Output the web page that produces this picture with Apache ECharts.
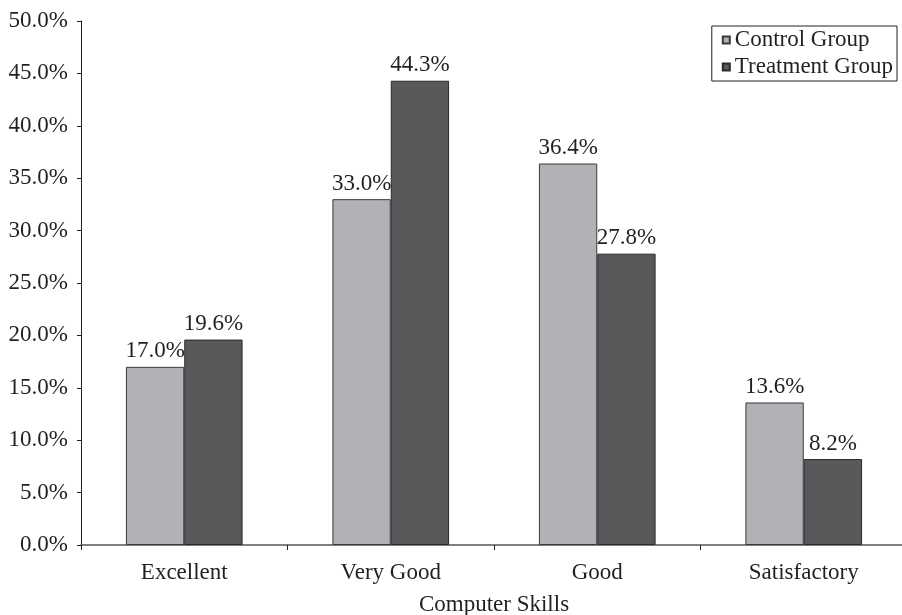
<!DOCTYPE html>
<html>
<head>
<meta charset="utf-8">
<script src="https://cdn.jsdelivr.net/npm/echarts@6/dist/echarts.min.js"></script>
<style>
  html, body { margin: 0; padding: 0; background: #fff; }
  #chart { width: 902px; height: 615px; }
</style>
</head>
<body>
<div id="chart"></div>
<script>
// Share of respondents by self-rated computer skill level
const categories = ['Excellent', 'Very Good', 'Good', 'Satisfactory'];
const controlGroup = [17.0, 33.0, 36.4, 13.6];
const treatmentGroup = [19.6, 44.3, 27.8, 8.2];
const seriesNames = ['Control Group', 'Treatment Group'];
const axisTitle = 'Computer Skills';

const FONT = '"Liberation Serif", "DejaVu Serif", serif';
const FS = 23;
const TEXT = '#231f20';

const chart = echarts.init(document.getElementById('chart'), null, { renderer: 'canvas' });

function barLabel() {
  return {
    show: true,
    position: 'top',
    distance: 4,
    fontFamily: FONT,
    fontSize: FS,
    color: TEXT,
    formatter: p => p.value.toFixed(1) + '%'
  };
}

chart.setOption({
  backgroundColor: '#ffffff',
  animation: false,
  grid: {
    left: 81, top: 21, width: 826, bottom: 70,
    containLabel: false,
    outerBoundsMode: 'none'
  },
  legend: {
    orient: 'vertical',
    right: 5,
    top: 26,
    itemWidth: 7,
    itemHeight: 7,
    itemGap: 3,
    padding: [2, 4, 2, 10],
    borderColor: '#231f20',
    borderWidth: 1,
    icon: 'rect',
    textStyle: { fontFamily: FONT, fontSize: FS, color: TEXT, lineHeight: 24 },
    data: seriesNames
  },
  xAxis: {
    type: 'category',
    data: categories,
    name: axisTitle,
    nameLocation: 'middle',
    nameGap: 48,
    nameTextStyle: { fontFamily: FONT, fontSize: FS, color: TEXT },
    axisLine: { lineStyle: { color: '#555', width: 1.5 } },
    axisTick: { show: true, length: 5, inside: false, alignWithLabel: false, lineStyle: { color: '#231f20' } },
    axisLabel: { fontFamily: FONT, fontSize: FS, color: TEXT, margin: 16 }
  },
  yAxis: {
    type: 'value',
    min: 0,
    max: 50,
    interval: 5,
    axisLine: { show: true, lineStyle: { color: '#231f20', width: 1 } },
    axisTick: { show: true, length: 4, lineStyle: { color: '#231f20' } },
    splitLine: { show: false },
    axisLabel: {
      fontFamily: FONT,
      fontSize: FS,
      color: TEXT,
      margin: 13,
      formatter: v => v.toFixed(1) + '%'
    }
  },
  series: [
    {
      name: seriesNames[0],
      type: 'bar',
      data: controlGroup,
      barGap: '0%',
      barCategoryGap: '43.5%',
      itemStyle: { color: '#b1b2b5', borderColor: '#3a3a3c', borderWidth: 1 },
      label: barLabel()
    },
    {
      name: seriesNames[1],
      type: 'bar',
      data: treatmentGroup,
      barGap: '0%',
      barCategoryGap: '43.5%',
      itemStyle: { color: '#58595b', borderColor: '#2a2a2c', borderWidth: 1 },
      label: barLabel()
    }
  ]
});
</script>
</body>
</html>
